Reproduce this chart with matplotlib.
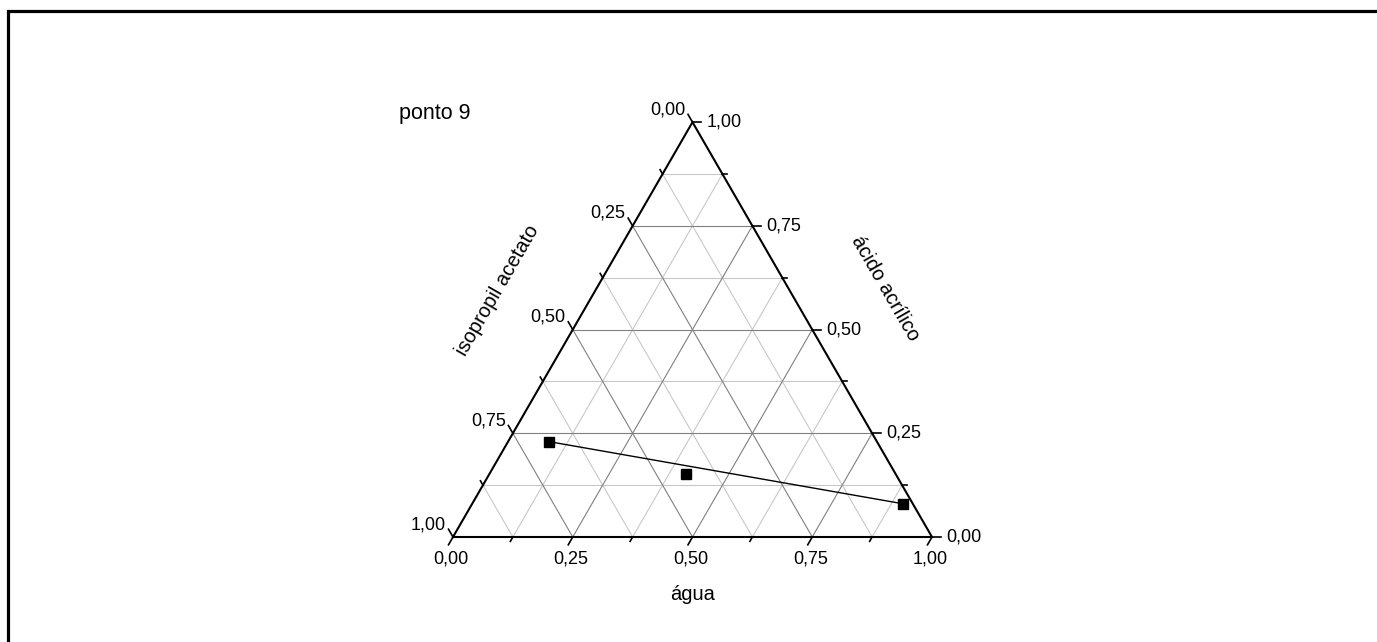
import numpy as np
import matplotlib.pyplot as plt
from matplotlib.patches import Rectangle

plt.rcParams['font.family'] = ['Liberation Sans', 'DejaVu Sans']

# composicoes (fracoes) do ponto 9
agua = [0.085, 0.41, 0.90]
acido = [0.23, 0.153, 0.08]
amostra = ['extrato', 'alimentacao', 'refinado']
ticks = [0.0, 0.25, 0.5, 0.75, 1.0]
tick_labels = ['0,00', '0,25', '0,50', '0,75', '1,00']
minor = [0.125, 0.375, 0.625, 0.875]

h = np.sqrt(3) / 2


def xy(a, b):
    # a = agua (base), b = acido acrilico (lado direito)
    a = np.asarray(a, float)
    b = np.asarray(b, float)
    return a + b / 2, b * h


fig = plt.figure(figsize=(13.77, 6.42), dpi=100)
ax = fig.add_axes([0, 0, 1, 1])
ax.set_xlim(-453 / 479, (1377 - 453) / 479)
ax.set_ylim(-105 / 479, (642 - 105) / 479)
ax.axis('off')

# moldura
fig.patches.append(Rectangle((7.5 / 1377, -0.1), 1.2, 1 - 10.5 / 642 + 0.1,
                             transform=fig.transFigure, fill=False,
                             lw=2.3, ec='black'))

# grade
for vals, col in ((minor, '#c8c8c8'), (ticks[1:-1], '#808080')):
    for v in vals:
        # acido constante (horizontal)
        x, y = xy([0, 1 - v], [v, v])
        ax.plot(x, y, color=col, lw=0.8, zorder=1)
        # agua constante
        x, y = xy([v, v], [0, 1 - v])
        ax.plot(x, y, color=col, lw=0.8, zorder=1)
        # isopropil constante
        x, y = xy([0, 1 - v], [1 - v, 0])
        ax.plot(x, y, color=col, lw=0.8, zorder=1)

# bordas do triangulo
x, y = xy([0, 1, 0, 0], [0, 0, 1, 0])
ax.plot(x, y, color='black', lw=1.5, zorder=3, solid_joinstyle='miter')

maj = 9 / 479
mnr = 5 / 479
lab = dict(fontsize=13, color='black')

for v, t in zip(ticks, tick_labels):
    # base: agua
    x0, y0 = xy(v, 0)
    d = np.array([-0.5, -h])
    ax.plot([x0, x0 + d[0] * maj], [y0, y0 + d[1] * maj], color='black', lw=1.2)
    ax.text(x0 - 2 / 479, y0 - 13 / 479, t, ha='center', va='top', **lab)
    # direita: acido acrilico
    x0, y0 = xy(1 - v, v)
    ax.plot([x0, x0 + maj], [y0, y0], color='black', lw=1.2)
    ax.text(x0 + 14 / 479, y0, t, ha='left', va='center', **lab)
    # esquerda: isopropil acetato
    x0, y0 = xy(0, 1 - v)
    d = np.array([-0.5, h])
    ax.plot([x0, x0 + d[0] * maj], [y0, y0 + d[1] * maj], color='black', lw=1.2)
    ax.text(x0 - 7 / 479, y0 + 4 / 479, t, ha='right', va='bottom', **lab)

for v in minor:
    x0, y0 = xy(v, 0)
    ax.plot([x0, x0 - 0.5 * mnr], [y0, y0 - h * mnr], color='black', lw=1.2)
    x0, y0 = xy(1 - v, v)
    ax.plot([x0, x0 + mnr], [y0, y0], color='black', lw=1.2)
    x0, y0 = xy(0, 1 - v)
    ax.plot([x0, x0 - 0.5 * mnr], [y0, y0 + h * mnr], color='black', lw=1.2)

# titulos dos eixos
ax.text(0.5, -57 / 479, 'água', ha='center', va='center', fontsize=14.5)
ax.text(xy(0.5, 0.5)[0] + 73 / 479, xy(0.5, 0.5)[1] + 41 / 479, 'ácido acrílico',
        ha='center', va='center', rotation=-60, rotation_mode='anchor', fontsize=14.5)
ax.text(xy(0, 0.5)[0] - 75 / 479, xy(0, 0.5)[1] + 39 / 479, 'isopropil acetato',
        ha='center', va='center', rotation=60, rotation_mode='anchor', fontsize=14.5)
ax.text(-54 / 479, (537 - 113) / 479, 'ponto 9', ha='left', va='center', fontsize=15.5)

# linha de amarracao e pontos
x, y = xy(agua, acido)
ax.plot([x[0], x[2]], [y[0], y[2]], color='black', lw=1.0, zorder=4)
ax.plot(x, y, 's', color='black', ms=6.5, zorder=5)

fig.savefig('out.png', dpi=100)
